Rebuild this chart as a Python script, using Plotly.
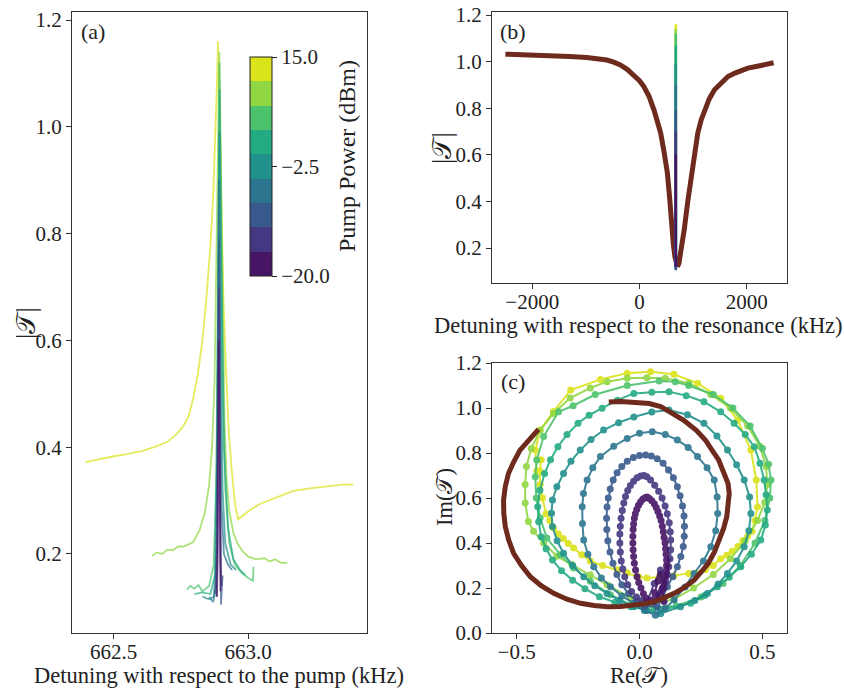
import plotly.graph_objects as go

FONT = "Liberation Serif"
T = "𝒯"

# ---------------- colours (9 pump-power bins, low -> high) ----------------
bin_colors = ["#471466", "#453882", "#38598c", "#2b758e", "#21918c",
              "#24aa83", "#4cc26c", "#90d743", "#dbe31a"]
cbar_min, cbar_max = -20.0, 15.0
cbar_tickvals = [-20.0, -2.5, 15.0]
cbar_ticktext = ["−20.0", "−2.5", "15.0"]
brown = "#6e2a1c"

# ---------------- panel (a): |T| vs detuning w.r.t. pump (kHz) ----------------
a_x1 = [662.884, 662.887, 662.889, 662.891, 662.893, 662.895, 662.897]
a_y1 = [0.12, 0.2, 0.4, 0.6, 0.45, 0.2, 0.13]
a_x2 = [662.882, 662.886, 662.889, 662.892, 662.895, 662.898, 662.902]
a_y2 = [0.12, 0.25, 0.55, 0.7, 0.4, 0.18, 0.14]
a_x3 = [662.878, 662.884, 662.888, 662.892, 662.895, 662.899, 662.905]
a_y3 = [0.125, 0.2, 0.5, 0.79, 0.45, 0.105, 0.16]
a_x4 = [662.855, 662.87, 662.88, 662.886, 662.891, 662.895, 662.9, 662.91, 662.925, 662.94]
a_y4 = [0.12, 0.11, 0.14, 0.4, 0.9, 0.6, 0.3, 0.2, 0.18, 0.17]
a_x5 = [662.83, 662.855, 662.872, 662.882, 662.888, 662.893, 662.898, 662.905, 662.915, 662.935, 662.955]
a_y5 = [0.12, 0.115, 0.12, 0.2, 0.6, 0.99, 0.65, 0.32, 0.22, 0.18, 0.17]
a_x6 = [662.8, 662.83, 662.86, 662.876, 662.885, 662.89, 662.894, 662.9, 662.91, 662.925, 662.945, 662.97, 662.99]
a_y6 = [0.125, 0.128, 0.125, 0.16, 0.45, 0.9, 1.07, 0.75, 0.4, 0.25, 0.19, 0.17, 0.16]
a_x7 = [662.772, 662.785, 662.8, 662.815, 662.83, 662.855, 662.872, 662.882, 662.889, 662.893, 662.898,
        662.905, 662.915, 662.93, 662.95, 662.975, 663.0, 663.018, 663.02]
a_y7 = [0.133, 0.14, 0.135, 0.142, 0.13, 0.14, 0.18, 0.35, 0.8, 1.12, 0.9,
        0.55, 0.32, 0.22, 0.18, 0.165, 0.155, 0.15, 0.176]
a_x8 = [662.642, 662.66, 662.68, 662.70, 662.72, 662.74, 662.76, 662.795, 662.82, 662.84, 662.855, 662.866,
        662.875, 662.883, 662.889, 662.893, 662.898, 662.905, 662.912, 662.92, 662.93, 662.945, 662.96,
        662.98, 663.0, 663.03, 663.06, 663.08, 663.1, 663.12, 663.146]
a_y8 = [0.196, 0.203, 0.2, 0.208, 0.207, 0.214, 0.214, 0.222, 0.245, 0.28, 0.33, 0.40,
        0.52, 0.75, 1.0, 1.14, 0.95, 0.65, 0.45, 0.34, 0.28, 0.24, 0.22,
        0.205, 0.195, 0.19, 0.192, 0.186, 0.19, 0.184, 0.183]
a_x9 = [662.395, 662.45, 662.5, 662.55, 662.608, 662.65, 662.7, 662.735, 662.76, 662.78, 662.795, 662.813,
        662.83, 662.845, 662.86, 662.87, 662.878, 662.884, 662.888, 662.893, 662.9, 662.908, 662.918,
        662.928, 662.94, 662.952, 662.963, 662.98, 663.0, 663.045, 663.1, 663.168, 663.23, 663.295,
        663.35, 663.392]
a_y9 = [0.372, 0.378, 0.383, 0.387, 0.393, 0.40, 0.41, 0.425, 0.44, 0.46, 0.49, 0.537,
        0.60, 0.68, 0.78, 0.87, 0.98, 1.08, 1.16, 1.05, 0.85, 0.68, 0.54,
        0.43, 0.35, 0.29, 0.265, 0.272, 0.28, 0.294, 0.305, 0.318, 0.323, 0.327,
        0.33, 0.33]
a_xs = [a_x1, a_x2, a_x3, a_x4, a_x5, a_x6, a_x7, a_x8, a_x9]
a_ys = [a_y1, a_y2, a_y3, a_y4, a_y5, a_y6, a_y7, a_y8, a_y9]

# ---------------- panel (b): |T| vs detuning w.r.t. resonance (kHz) ----------------
b_x = [-2500, -2000, -1612, -1300, -984, -800, -608, -480, -357, -230, -107, 0, 81, 180, 269, 335,
       395, 460, 521, 560, 596, 630, 659, 685, 709, 735, 759, 795, 834, 900, 960, 1020, 1086, 1150,
       1210, 1300, 1398, 1520, 1650, 1780, 1900, 2020, 2150, 2330, 2500]
b_y = [1.032, 1.03, 1.025, 1.022, 1.018, 1.013, 1.007, 0.998, 0.986, 0.967, 0.943, 0.918, 0.893,
       0.85, 0.793, 0.745, 0.693, 0.61, 0.52, 0.42, 0.293, 0.22, 0.164, 0.135, 0.121, 0.135, 0.164,
       0.22, 0.279, 0.4, 0.507, 0.6, 0.693, 0.75, 0.793, 0.84, 0.879, 0.91, 0.936, 0.951, 0.964,
       0.972, 0.978, 0.988, 0.995]
pump_shift_khz = 14.1  # pump detuning offset used to place panel (a) traces in panel (b)

# ---------------- panel (c): Im(T) vs Re(T) ----------------
c_re1 = [0.045, 0.07, 0.09, 0.10, 0.106, 0.109, 0.11, 0.11, 0.108, 0.106, 0.104, 0.1, 0.097, 0.093,
         0.088, 0.082, 0.075, 0.068, 0.06, 0.05, 0.04, 0.031, 0.022, 0.013, 0.004, -0.004, -0.011,
         -0.017, -0.021, -0.024, -0.026, -0.027, -0.027, -0.026, -0.024, -0.021, -0.016, -0.01,
         -0.003, 0.006, 0.016, 0.028, 0.045, 0.062, 0.075, 0.085, 0.094, 0.1]
c_im1 = [0.14, 0.16, 0.19, 0.22, 0.25, 0.275, 0.30, 0.325, 0.35, 0.375, 0.40, 0.425, 0.45, 0.475,
         0.50, 0.52, 0.54, 0.558, 0.574, 0.588, 0.598, 0.604, 0.601, 0.594, 0.582, 0.568, 0.55,
         0.53, 0.51, 0.485, 0.46, 0.43, 0.40, 0.37, 0.34, 0.31, 0.28, 0.25,
         0.225, 0.2, 0.175, 0.155, 0.145, 0.18, 0.23, 0.26, 0.2, 0.14]
c_re2 = [0.03, 0.057, 0.08, 0.095, 0.106, 0.113, 0.119, 0.124, 0.127, 0.127, 0.125, 0.121, 0.113,
         0.104, 0.092, 0.078, 0.062, 0.045, 0.03, 0.018, 0.005, -0.01, -0.024, -0.037, -0.048,
         -0.057, -0.064, -0.07, -0.075, -0.078, -0.08, -0.08, -0.078, -0.074, -0.068, -0.06,
         -0.048, -0.032, -0.012, 0.01, 0.03, 0.06, 0.085, 0.1]
c_im2 = [0.135, 0.138, 0.17, 0.2, 0.23, 0.26, 0.295, 0.33, 0.37, 0.413, 0.45, 0.49, 0.53,
         0.565, 0.6, 0.63, 0.657, 0.68, 0.694, 0.70, 0.698, 0.69, 0.675, 0.656, 0.633,
         0.607, 0.578, 0.545, 0.51, 0.475, 0.44, 0.4, 0.36, 0.32, 0.285, 0.25,
         0.215, 0.185, 0.16, 0.145, 0.135, 0.22, 0.28, 0.2]
c_re3 = [0.02, 0.072, 0.095, 0.113, 0.135, 0.154, 0.168, 0.178, 0.182, 0.183, 0.181, 0.175, 0.165,
         0.154, 0.138, 0.118, 0.096, 0.072, 0.048, 0.025, 0.0, -0.025, -0.05, -0.072, -0.091,
         -0.107, -0.119, -0.127, -0.132, -0.134, -0.133, -0.129, -0.12, -0.108, -0.092, -0.072,
         -0.045, -0.01, 0.02]
c_im3 = [0.12, 0.117, 0.16, 0.206, 0.25, 0.295, 0.34, 0.385, 0.43, 0.475, 0.52, 0.565, 0.61,
         0.65, 0.69, 0.725, 0.754, 0.775, 0.787, 0.791, 0.789, 0.78, 0.763, 0.74, 0.712,
         0.68, 0.64, 0.6, 0.56, 0.51, 0.46, 0.41, 0.36, 0.31, 0.26, 0.215,
         0.175, 0.14, 0.12]
c_re4 = [0.065, 0.105, 0.141, 0.185, 0.222, 0.26, 0.29, 0.31, 0.318, 0.316, 0.304, 0.275, 0.236,
         0.198, 0.154, 0.105, 0.052, 0.0, -0.05, -0.105, -0.159, -0.19, -0.213, -0.228, -0.233,
         -0.232, -0.227, -0.21, -0.186, -0.155, -0.118, -0.072, -0.023, 0.02, 0.065]
c_im4 = [0.08, 0.11, 0.147, 0.205, 0.265, 0.32, 0.383, 0.455, 0.531, 0.605, 0.68, 0.735, 0.784,
         0.825, 0.858, 0.882, 0.895, 0.888, 0.865, 0.83, 0.784, 0.735, 0.68, 0.62, 0.561,
         0.487, 0.413, 0.35, 0.295, 0.245, 0.206, 0.165, 0.132, 0.1, 0.08]
c_re5 = [0.086, 0.167, 0.225, 0.276, 0.32, 0.358, 0.395, 0.426, 0.445, 0.453, 0.448, 0.426, 0.395,
         0.358, 0.315, 0.262, 0.195, 0.12, 0.05, -0.023, -0.085, -0.146, -0.197, -0.241, -0.279,
         -0.309, -0.336, -0.354, -0.358, -0.354, -0.335, -0.309, -0.272, -0.227, -0.182, -0.132,
         -0.08, -0.023, 0.03, 0.086]
c_im5 = [0.087, 0.117, 0.145, 0.176, 0.218, 0.265, 0.32, 0.383, 0.455, 0.531, 0.605, 0.68, 0.748,
         0.813, 0.876, 0.932, 0.97, 0.991, 0.982, 0.96, 0.935, 0.902, 0.86, 0.813, 0.763,
         0.709, 0.65, 0.591, 0.532, 0.473, 0.41, 0.354, 0.3, 0.25, 0.21, 0.176,
         0.145, 0.117, 0.1, 0.087]
c_re6 = [0.086, 0.208, 0.265, 0.317, 0.365, 0.412, 0.455, 0.494, 0.512, 0.52, 0.515, 0.507, 0.49,
         0.467, 0.43, 0.385, 0.33, 0.262, 0.19, 0.12, 0.05, -0.023, -0.09, -0.152, -0.205, -0.25,
         -0.295, -0.332, -0.362, -0.386, -0.405, -0.414, -0.41, -0.4, -0.38, -0.354, -0.317,
         -0.272, -0.222, -0.163, -0.1, -0.035, 0.025, 0.086]
c_im6 = [0.102, 0.132, 0.167, 0.206, 0.248, 0.295, 0.35, 0.413, 0.48, 0.547, 0.615, 0.68, 0.755,
         0.828, 0.882, 0.932, 0.983, 1.028, 1.055, 1.072, 1.07, 1.065, 1.035, 0.999, 0.968, 0.932,
         0.882, 0.828, 0.77, 0.709, 0.635, 0.561, 0.495, 0.428, 0.375, 0.324, 0.277,
         0.235, 0.197, 0.161, 0.137, 0.117, 0.105, 0.102]
c_re7 = [0.06, 0.15, 0.25, 0.34, 0.41, 0.47, 0.51, 0.53, 0.535, 0.525, 0.5, 0.45, 0.38, 0.3, 0.2,
         0.146, 0.08, -0.05, -0.18, -0.27, -0.329, -0.39, -0.418, -0.424, -0.42, -0.404, -0.377,
         -0.322, -0.268, -0.2, -0.118, -0.037, 0.06]
c_im7 = [0.115, 0.12, 0.16, 0.22, 0.3, 0.4, 0.5, 0.6, 0.68, 0.75, 0.82, 0.92, 1.0, 1.06, 1.1,
         1.117, 1.12, 1.1, 1.06, 1.01, 0.983, 0.873, 0.769, 0.695, 0.6, 0.511, 0.422,
         0.348, 0.289, 0.23, 0.17, 0.126, 0.115]
c_re8 = [0.05, 0.14, 0.22, 0.3, 0.37, 0.43, 0.48, 0.51, 0.52, 0.515, 0.49, 0.44, 0.37, 0.29, 0.2,
         0.105, 0.03, -0.05, -0.132, -0.2, -0.282, -0.35, -0.405, -0.44, -0.46, -0.465, -0.465,
         -0.452, -0.431, -0.39, -0.336, -0.275, -0.2, -0.132, -0.037, 0.05]
c_im8 = [0.13, 0.15, 0.2, 0.26, 0.33, 0.41, 0.5, 0.58, 0.66, 0.74, 0.83, 0.92, 1.0, 1.06, 1.11,
         1.132, 1.135, 1.132, 1.117, 1.089, 1.044, 0.976, 0.9, 0.82, 0.74, 0.66, 0.578,
         0.496, 0.452, 0.4, 0.341, 0.304, 0.259, 0.215, 0.156, 0.13]
c_re9 = [-0.40, -0.405, -0.404, -0.395, -0.38, -0.365, -0.35, -0.33, -0.31, -0.29, -0.268, -0.235,
         -0.2, -0.15, -0.091, -0.05, -0.004, 0.03, 0.08, 0.14, 0.2, 0.268, 0.3, 0.33, 0.355, 0.377,
         0.4, 0.42, 0.44, 0.458, 0.47, 0.48, 0.475, 0.453, 0.399, 0.331, 0.236, 0.14, 0.045, -0.05,
         -0.159, -0.28, -0.35, -0.404, -0.424, -0.418]
c_im9 = [0.77, 0.72, 0.66, 0.6, 0.53, 0.5, 0.467, 0.44, 0.42, 0.398, 0.378, 0.348,
         0.32, 0.3, 0.281, 0.268, 0.25, 0.245, 0.248, 0.255, 0.265, 0.281, 0.3, 0.33, 0.346, 0.363,
         0.385, 0.41, 0.43, 0.452, 0.5, 0.56, 0.68, 0.813, 0.947, 1.043, 1.11, 1.15, 1.161, 1.155,
         1.127, 1.08, 0.984, 0.902, 0.813, 0.72]
c_res = [c_re1, c_re2, c_re3, c_re4, c_re5, c_re6, c_re7, c_re8, c_re9]
c_ims = [c_im1, c_im2, c_im3, c_im4, c_im5, c_im6, c_im7, c_im8, c_im9]

c_ref_re = [-0.411, -0.45, -0.486, -0.512, -0.533, -0.546, -0.553, -0.552, -0.546, -0.532, -0.512,
            -0.48, -0.444, -0.4, -0.349, -0.295, -0.24, -0.185, -0.131, -0.077, -0.023, 0.02, 0.059,
            0.1, 0.141, 0.183, 0.222, 0.25, 0.28, 0.305, 0.325, 0.342, 0.355, 0.362, 0.365, 0.36,
            0.345, 0.322, 0.295, 0.268, 0.23, 0.18, 0.13, 0.086, 0.04, -0.023, -0.075, -0.125]
c_ref_im = [0.905, 0.86, 0.813, 0.76, 0.709, 0.65, 0.591, 0.532, 0.473, 0.413, 0.354,
            0.3, 0.25, 0.21, 0.176, 0.15, 0.132, 0.122, 0.117, 0.118, 0.124, 0.13, 0.139,
            0.155, 0.176, 0.203, 0.235, 0.27, 0.31, 0.36, 0.41, 0.465, 0.517, 0.57, 0.621, 0.665,
            0.709, 0.769, 0.813, 0.858, 0.902, 0.945, 0.978, 1.006, 1.02, 1.027, 1.029, 1.027]

# ---------------- figure ----------------
W, H = 844, 691
fig = go.Figure()

def px_x(p):
    return p / W

def px_y(p):
    return 1 - p / H

# panel (a) and the same traces in panel (b); high power first, low power on top
for i in range(8, -1, -1):
    fig.add_trace(go.Scatter(x=a_xs[i], y=a_ys[i], mode="lines", xaxis="x", yaxis="y",
                             line=dict(color=bin_colors[i], width=1.8), opacity=0.7,
                             showlegend=False, hoverinfo="skip"))

fig.add_trace(go.Scatter(x=b_x, y=b_y, mode="lines", xaxis="x2", yaxis="y2",
                         line=dict(color=brown, width=5), showlegend=False, hoverinfo="skip"))
for i in range(8, -1, -1):
    fig.add_trace(go.Scatter(x=[v + pump_shift_khz for v in a_xs[i]], y=a_ys[i], mode="lines",
                             xaxis="x2", yaxis="y2", line=dict(color=bin_colors[i], width=2.5),
                             showlegend=False, hoverinfo="skip"))

for i in range(8, -1, -1):
    fig.add_trace(go.Scatter(x=c_res[i], y=c_ims[i], mode="lines+markers", xaxis="x3", yaxis="y3",
                             line=dict(color=bin_colors[i], width=2),
                             marker=dict(color=bin_colors[i], size=7), opacity=0.9,
                             showlegend=False, hoverinfo="skip"))
fig.add_trace(go.Scatter(x=c_ref_re, y=c_ref_im, mode="lines", xaxis="x3", yaxis="y3",
                         line=dict(color=brown, width=5), showlegend=False, hoverinfo="skip"))

# colorbar (discrete viridis bins)
nb = len(bin_colors)
cscale = []
for i, c in enumerate(bin_colors):
    cscale.append([i / nb, c])
    cscale.append([(i + 1) / nb, c])
fig.add_trace(go.Scatter(
    x=[None], y=[None], mode="markers", xaxis="x", yaxis="y", showlegend=False, hoverinfo="skip",
    marker=dict(color=[cbar_min], colorscale=cscale, cmin=cbar_min, cmax=cbar_max, showscale=True,
                colorbar=dict(x=px_x(250), xanchor="left", y=px_y(166.5), yanchor="middle",
                              len=219, lenmode="pixels", thickness=22, thicknessmode="pixels",
                              xpad=0, ypad=0, outlinewidth=1, outlinecolor="#222",
                              tickvals=cbar_tickvals, ticktext=cbar_ticktext, ticks="outside",
                              ticklen=5, tickcolor="#222",
                              tickfont=dict(family=FONT, size=21, color="#222")))))

axis_style = dict(showline=True, linecolor="#333", linewidth=1.2, mirror=True, ticks="outside",
                  ticklen=5, tickwidth=1.2, tickcolor="#333", showgrid=False, zeroline=False,
                  tickfont=dict(family=FONT, size=21, color="#222"), automargin=False)
xstyle = dict(axis_style, ticklabelstandoff=-5)

fig.update_layout(
    width=W, height=H, margin=dict(l=0, r=0, t=0, b=0),
    paper_bgcolor="white", plot_bgcolor="white",
    xaxis=dict(domain=[px_x(72), px_x(367)], range=[662.345, 663.442],
               tickvals=[662.5, 663.0], ticktext=["662.5", "663.0"], anchor="y", **xstyle),
    yaxis=dict(domain=[px_y(633), px_y(12)], range=[0.052, 1.215], tickvals=[0.2, 0.4, 0.6, 0.8, 1.0, 1.2],
               tickformat=".1f", anchor="x", **axis_style),
    xaxis2=dict(domain=[px_x(492), px_x(787)], range=[-2750, 2750], tickvals=[-2000, 0, 2000],
                anchor="y2", **xstyle),
    yaxis2=dict(domain=[px_y(283), px_y(12)], range=[0.05, 1.213], tickvals=[0.2, 0.4, 0.6, 0.8, 1.0, 1.2],
                tickformat=".1f", anchor="x2", **axis_style),
    xaxis3=dict(domain=[px_x(492), px_x(787)], range=[-0.6, 0.6], tickvals=[-0.5, 0.0, 0.5],
                tickformat=".1f", anchor="y3", **xstyle),
    yaxis3=dict(domain=[px_y(633), px_y(363)], range=[0, 1.2], tickvals=[0, 0.2, 0.4, 0.6, 0.8, 1.0, 1.2],
                tickformat=".1f", anchor="x3", **axis_style),
)

def ann(text, x, y, size=20, angle=0):
    return dict(text=text, x=px_x(x), y=px_y(y), xref="paper", yref="paper", showarrow=False,
                textangle=angle, xanchor="center", yanchor="middle",
                font=dict(family=FONT, size=size, color="#222"))

fig.update_layout(annotations=[
    ann("Detuning with respect to the pump (kHz)", 219, 675, 22.5),
    ann("|" + T + "|", 26, 323, 27, -90),
    ann("(a)", 93, 31, 22),
    ann("Pump Power (dBm)", 347, 156, 24, -90),
    ann("Detuning with respect to the resonance (kHz)", 638, 325, 22.5),
    ann("|" + T + "|", 442, 148, 27, -90),
    ann("(b)", 513, 31, 22),
    ann("Re(" + T + ")", 639, 675, 22.5),
    ann("Im(" + T + ")", 445, 497, 22.5, -90),
    ann("(c)", 513, 382, 22),
])

fig.write_html("out.html", config={"displayModeBar": False})

# remove the browser's default page margin so the figure sits at the window's top-left corner
with open("out.html", "r", encoding="utf-8") as fh:
    html = fh.read()
html = html.replace("<head>", "<head><style>html,body{margin:0;padding:0;overflow:hidden;}</style>", 1)
with open("out.html", "w", encoding="utf-8") as fh:
    fh.write(html)
